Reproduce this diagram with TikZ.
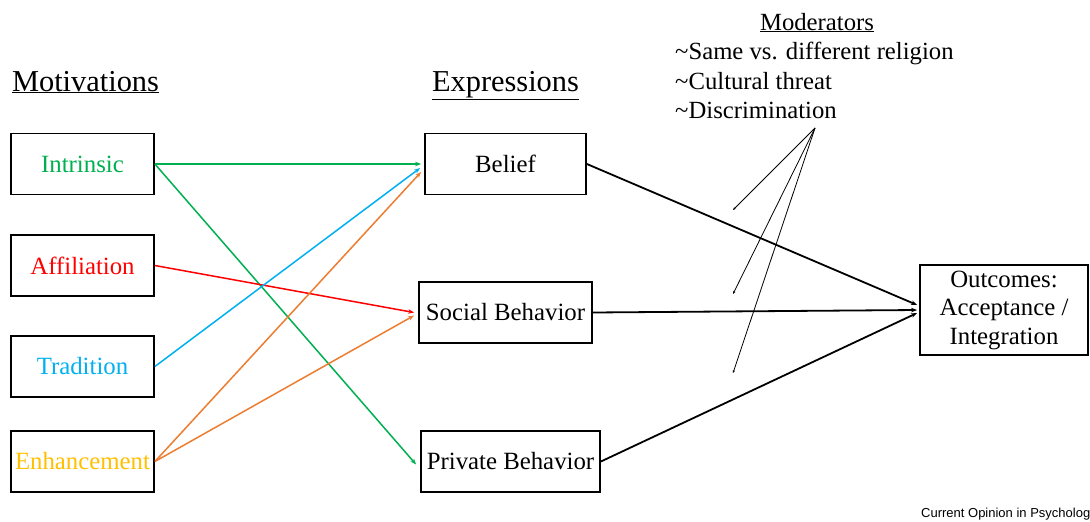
\documentclass[tikz,border=0pt]{standalone}
\usepackage{fontspec}
\setmainfont{Liberation Serif}
\newfontfamily\creditfont{Liberation Sans}
\usetikzlibrary{arrows.meta}
\definecolor{cgreen}{HTML}{00B050}
\definecolor{cred}{HTML}{FF0000}
\definecolor{cblue}{HTML}{00B0F0}
\definecolor{corange}{HTML}{ED7D31}
\definecolor{cgold}{HTML}{FFC000}
\begin{document}
\begin{tikzpicture}[x=1pt,y=-1pt,
  box/.style={draw,line width=1.8pt,minimum height=61pt,inner sep=0pt,font=\fontsize{24.8}{29}\selectfont},
  mbox/.style={box,minimum width=143pt},
  head/.style={font=\fontsize{30.4}{34}\selectfont,anchor=base,inner sep=0pt},
  modtxt/.style={font=\fontsize{24.7}{29}\selectfont,anchor=base west,inner sep=0pt},
  arr/.style={-{Stealth[length=6pt,width=4.5pt]},line width=1.5pt},
  barr/.style={-{Stealth[length=6pt,width=4.5pt]},line width=1.8pt,black},
  marr/.style={-{Stealth[length=3pt,width=2.5pt]},line width=0.8pt,black}]
\useasboundingbox (0,0) rectangle (1090,522);
\fill[white] (0,0) rectangle (1090,522);

% headers
\node[head] (hmot) at (85.5,91) {\underline{Motivations}};
\node[head] (hexp) at (505.5,91) {\underline{Expressions}};

% motivation boxes
\node[mbox,text=cgreen] (intr) at (82.5,164) {Intrinsic};
\node[mbox,text=cred] (affi) at (82.5,265.5) {Affiliation};
\node[mbox,text=cblue] (trad) at (82.5,366.5) {Tradition};
\node[mbox,text=cgold] (enh) at (82.5,461.5) {Enhancement};

% expression boxes
\node[box,minimum width=161pt] (bel) at (505.5,164) {Belief};
\node[box,minimum width=173pt] (soc) at (505.5,312.5) {Social Behavior};
\node[box,minimum width=179pt] (pri) at (510.5,461.5) {Private Behavior};

% outcomes
\node[draw,line width=1.8pt,minimum width=168pt,minimum height=90pt,inner sep=0pt,align=center,font=\fontsize{24.8}{28.5}\selectfont] (out) at (1004,310) {Outcomes:\\Acceptance /\\Integration};

% moderators
\node[font=\fontsize{24.7}{29}\selectfont,anchor=base,inner sep=0pt] (modh) at (817,30) {\underline{Moderators}};
\node[modtxt] (mod1) at (675,59) {\textasciitilde Same vs. different religion};
\node[modtxt] (mod2) at (675,89) {\textasciitilde Cultural threat};
\node[modtxt] (mod3) at (675,118) {\textasciitilde Discrimination};

\coordinate (mo) at (815,128);
\coordinate (m1) at (733,210);
\coordinate (m2) at (733,294);
\coordinate (m3) at (733,373);
\draw[marr] (mo) -- (m1);
\draw[marr] (mo) -- (m2);
\draw[marr] (mo) -- (m3);

% colored arrows
\draw[arr,cgreen] (intr.east) -- ([xshift=-3pt]bel.west);
\draw[arr,cgreen] (intr.east) -- ([xshift=-4pt,yshift=-3pt]pri.west);
\draw[arr,cred] (affi.east) -- ([xshift=-4pt]soc.west);
\draw[arr,cblue] (trad.east) -- ([xshift=-4pt,yshift=-4pt]bel.west);
\draw[arr,corange] (enh.east) -- ([xshift=-3pt,yshift=-8pt]bel.west);
\draw[arr,corange] (enh.east) -- ([xshift=-4pt,yshift=-3pt]soc.west);

% black arrows
\draw[barr] (bel.east) -- ([xshift=-2pt,yshift=5pt]out.west);
\draw[barr] (soc.east) -- ([xshift=-2pt]out.west);
\draw[barr] (pri.east) -- ([xshift=-2pt,yshift=-3pt]out.west);

% credit
\node[anchor=west,inner sep=0pt,font=\creditfont\fontsize{13}{15}\selectfont] (cred) at (921,514) {Current Opinion in Psychology};
\end{tikzpicture}
\end{document}
